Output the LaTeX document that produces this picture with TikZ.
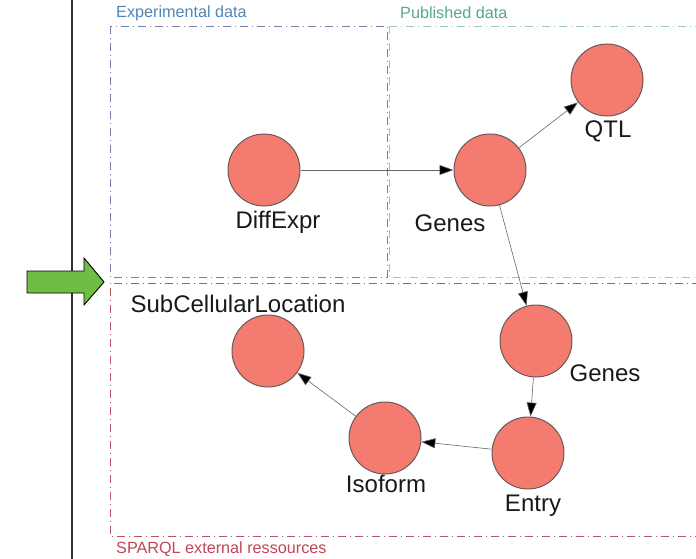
\documentclass[tikz,border=0pt]{standalone}
\usepackage{fontspec}
\setmainfont{Liberation Sans}
\usetikzlibrary{arrows.meta}
\definecolor{nodefill}{HTML}{F47B70}
\definecolor{nodeedge}{HTML}{6A5A5A}
\definecolor{expline}{HTML}{7482AA}
\definecolor{exptext}{HTML}{4F86B8}
\definecolor{publine}{HTML}{9CC9B2}
\definecolor{pubtext}{HTML}{55AA85}
\definecolor{sparline}{HTML}{B85463}
\definecolor{spartext}{HTML}{C0465A}
\definecolor{arrowgreen}{HTML}{6FBE44}
\tikzset{
  entity/.style={circle, draw=nodeedge, line width=1pt, fill=nodefill, minimum size=72pt, inner sep=0pt},
  caption/.style={font=\fontsize{24}{28}\selectfont, text=black!90, inner sep=0pt},
  grouplabel/.style={font=\fontsize{16.2}{19}\selectfont, inner sep=0pt, anchor=west},
  groupbox/.style={line width=0.9pt, dash pattern=on 8pt off 4pt on 1pt off 4pt},
  link/.style={draw=black!60, line width=0.6pt, -{Triangle[length=14pt, width=10pt, fill=black]}},
}
\begin{document}
\begin{tikzpicture}[x=1pt, y=-1pt]
\useasboundingbox (0,0) rectangle (696,559);

% time axis on the left
\draw[black!80, line width=1.2pt] (72,0) -- (72,559);

% data source groups
\draw[groupbox, draw=expline] (110,26) rectangle (387,277);
\draw[groupbox, draw=publine] (389,26) -- (389,277) -- (700,277);
\draw[groupbox, draw=publine] (389,26) -- (700,26);
\draw[groupbox, draw=sparline] (700,283) -- (110,283) -- (110,536) -- (700,536);
\node[grouplabel, text=exptext] (lexp) at (116,13) {Experimental data};
\node[grouplabel, text=pubtext] (lpub) at (400,13) {Published data};
\node[grouplabel, text=spartext] (lspar) at (116,549) {SPARQL external ressources};

% entry arrow
\draw[fill=arrowgreen, draw=black, line width=0.9pt]
  (27,271) -- (84,271) -- (84,258) -- (104,282) -- (84,305) -- (84,293) -- (27,293) -- cycle;

% entities
\node[entity] (diff) at (264,170) {};
\node[entity] (genesA) at (490,170) {};
\node[entity] (qtl) at (607,80) {};
\node[entity] (genesB) at (536,341) {};
\node[entity] (entry) at (528,453) {};
\node[entity] (iso) at (385,438) {};
\node[entity] (subcell) at (268,351) {};

% captions
\node[caption] (tdiff) at (278,222) {DiffExpr};
\node[caption] (tgenesA) at (450,223) {Genes};
\node[caption] (tqtl) at (608,131) {QTL};
\node[caption] (tgenesB) at (605,373) {Genes};
\node[caption] (tentry) at (533,506) {Entry};
\node[caption] (tiso) at (386,484) {Isoform};
\node[caption] (tsub) at (238,304) {SubCellularLocation};

% relations
\draw[link] (diff) -- (genesA);
\draw[link] (genesA) -- (qtl);
\draw[link] (genesA) -- (genesB);
\draw[link] (genesB) -- (entry);
\draw[link] (entry) -- (iso);
\draw[link] (iso) -- (subcell);
\end{tikzpicture}
\end{document}
